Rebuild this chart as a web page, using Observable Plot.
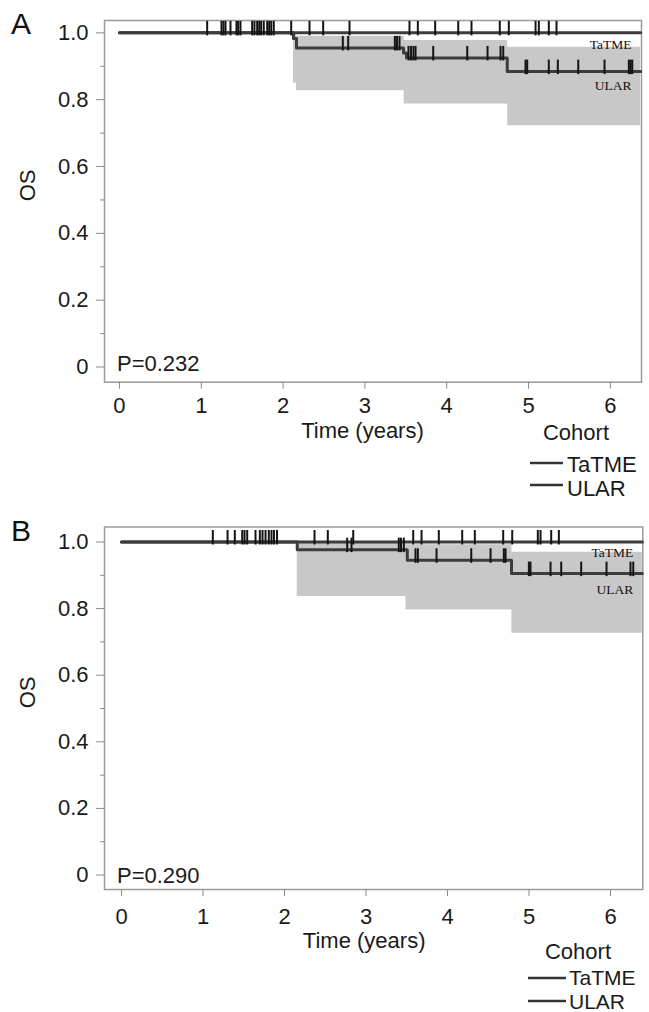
<!DOCTYPE html>
<html><head><meta charset="utf-8">
<script src="https://cdn.jsdelivr.net/npm/d3@7"></script>
<script src="https://cdn.jsdelivr.net/npm/@observablehq/plot@0.6"></script>
<style>
body{margin:0;background:#fff;}
#wrap{position:relative;width:649px;height:1012px;overflow:hidden;font-family:"Liberation Sans",Arial,sans-serif;}
.panel{position:absolute;left:0;}
#overlay{position:absolute;left:0;top:0;pointer-events:none;}
</style></head>
<body>
<div id="wrap">
  <div id="pa" class="panel" style="top:0px"></div>
  <div id="pb" class="panel" style="top:506px"></div>
  <svg id="overlay" width="649" height="1012"></svg>
</div>
<script>
// ---------- data ----------
const panelLabels = ["A", "B"];
const seriesNames = ["TaTME", "ULAR"];
const legendTitle = "Cohort";
const xLabel = "Time (years)";
const yLabel = "OS";
const pValues = ["P=0.232", "P=0.290"];
const xTicks = [0, 1, 2, 3, 4, 5, 6];
const yTicks = [0, 0.2, 0.4, 0.6, 0.8, 1.0];
const yMinorTicks = [0.1, 0.3, 0.5, 0.7, 0.9];

// Panel A
const aEndTime = 6.37;
const aTatmeCensor = [1.072, 1.247, 1.271, 1.296, 1.357, 1.430, 1.451, 1.479, 1.622, 1.650, 1.683, 1.708, 1.732, 1.764,
  1.806, 1.830, 1.855, 1.886, 2.099, 2.323, 2.490, 2.812, 3.545, 3.647, 3.859, 4.141, 4.303, 4.649, 4.759, 5.086,
  5.126, 5.248, 5.342];
const aUlarEventTimes = [2.127, 2.164, 3.472, 3.509, 4.740];
const aUlarEventSurv = [0.983, 0.955, 0.940, 0.925, 0.884];
const aUlarCensor = [2.730, 2.796, 3.366, 3.392, 3.423, 3.533, 3.564, 3.594, 3.619, 3.835, 4.251, 4.499, 4.658, 4.691,
  4.963, 4.984, 5.248, 5.358, 5.608, 5.929, 6.226, 6.247, 6.268];
const aBandStart = [2.127, 2.164, 3.480, 4.745];
const aBandLower = [0.850, 0.827, 0.787, 0.722];
const aBandUpper = [0.995, 0.990, 0.977, 0.957];

// Panel B
const bEndTime = 6.39;
const bTatmeCensor = [1.120, 1.301, 1.390, 1.481, 1.509, 1.542, 1.644, 1.697, 1.730, 1.767, 1.807, 1.840, 1.871, 1.908,
  2.368, 2.531, 2.843, 3.579, 3.681, 3.893, 4.180, 4.335, 4.683, 4.794, 5.108, 5.141, 5.272, 5.366];
const bUlarEventTimes = [2.156, 3.506, 4.785];
const bUlarEventSurv = [0.977, 0.945, 0.905];
const bUlarCensor = [2.769, 2.822, 3.402, 3.429, 3.464, 3.607, 3.636, 3.865, 4.291, 4.528, 4.691, 4.712, 4.998, 5.018,
  5.264, 5.395, 5.640, 5.951, 6.245, 6.279];
const bBandStart = [2.156, 3.490, 4.790];
const bBandLower = [0.836, 0.796, 0.726];
const bBandUpper = [0.999, 0.992, 0.969];

// ---------- helpers ----------
const FONT = '"Liberation Sans", Arial, Helvetica, sans-serif';
const censorSym = {draw(ctx) { ctx.moveTo(0, -12); ctx.lineTo(0, 2.5); }};

function survAt(times, surv, t) {
  let s = 1;
  for (let i = 0; i < times.length; i++) if (times[i] <= t) s = surv[i];
  return s;
}
function stepData(times, surv, end) {
  const d = [{t: 0, s: 1}];
  times.forEach((t, i) => d.push({t, s: surv[i]}));
  d.push({t: end, s: d[d.length - 1].s});
  return d;
}
function bandData(start, lo, hi, end) {
  const d = start.map((t, i) => ({t, lo: lo[i], hi: hi[i]}));
  d.push({t: end, lo: lo[lo.length - 1], hi: hi[hi.length - 1]});
  return d;
}

function panel(c) {
  const tat = stepData([], [], c.end);
  const ul = stepData(c.uT, c.uS, c.end);
  const band = bandData(c.bS, c.bL, c.bU, c.end);
  const cens = c.tC.map(t => ({t, s: 1}))
    .concat(c.uC.map(t => ({t, s: survAt(c.uT, c.uS, t)})));
  const labels = seriesNames.map((n, i) => ({n, x: c.labX, y: c.labY[i]}));
  return Plot.plot({
    width: 649, height: 506,
    marginTop: c.mt, marginBottom: c.mb, marginLeft: 104, marginRight: c.mr,
    style: {fontFamily: FONT, fontSize: "22px", color: "#1a1a1a", background: "transparent"},
    x: {domain: c.xDomain},
    y: {domain: c.yDomain},
    marks: [
      Plot.areaY(band, {x: "t", y1: "lo", y2: "hi", curve: "step-after", fill: "#c8c8c8"}),
      Plot.frame({stroke: "#9a9a9a", strokeWidth: 1.5}),
      Plot.axisY(yTicks, {tickSize: 8, tickPadding: 8, tickFormat: d => d === 0 ? "0" : d.toFixed(1),
        stroke: "#8a8a8a", fill: "#1a1a1a", fontSize: 22, label: null}),
      Plot.axisY(yMinorTicks, {tickSize: 4, tickFormat: () => "", stroke: "#8a8a8a", label: null}),
      Plot.axisX(xTicks, {tickSize: 7, tickPadding: c.xpad, stroke: "#8a8a8a", fill: "#1a1a1a",
        fontSize: 22, label: null}),
      Plot.line(tat, {x: "t", y: "s", curve: "step-after", stroke: "#3c3c3c", strokeWidth: 3}),
      Plot.line(ul, {x: "t", y: "s", curve: "step-after", stroke: "#3c3c3c", strokeWidth: 3}),
      Plot.dot(cens, {x: "t", y: "s", symbol: censorSym, stroke: "#141414", strokeWidth: 2, fill: "none"}),
      Plot.text(labels, {x: "x", y: "y", text: "n", textAnchor: "end", lineAnchor: "middle",
        fontFamily: '"Liberation Serif", "Times New Roman", serif', fontSize: 13.5, fill: "#111"}),
      Plot.text([c.p], {frameAnchor: "bottom-left", dx: 12.5, dy: c.pdy, text: d => d,
        textAnchor: "start", lineAnchor: "middle", fontSize: 22}),
      Plot.text([yLabel], {frameAnchor: "left", dx: -77, rotate: -90, text: d => d,
        lineAnchor: "middle", fontSize: 22}),
      Plot.text([xLabel], {x: c.xlabX, frameAnchor: "bottom", dy: c.xlabDy, text: d => d,
        lineAnchor: "middle", fontSize: 22})
    ]
  });
}

document.getElementById("pa").append(panel({
  end: aEndTime, uT: aUlarEventTimes, uS: aUlarEventSurv, tC: aTatmeCensor, uC: aUlarCensor,
  bS: aBandStart, bL: aBandLower, bU: aBandUpper,
  mt: 20, mb: 124.3, mr: 8, xDomain: [-0.183, 6.381], yDomain: [-0.0455, 1.037],
  xpad: 8.4, labX: 6.26, labY: [0.965, 0.843], p: pValues[0], pdy: -18.5,
  xlabX: 2.97, xlabDy: 48.3
}));
document.getElementById("pb").append(panel({
  end: bEndTime, uT: bUlarEventTimes, uS: bUlarEventSurv, tC: bTatmeCensor, uC: bUlarCensor,
  bS: bBandStart, bL: bBandLower, bU: bBandUpper,
  mt: 20.5, mb: 123, mr: 6.7, xDomain: [-0.209, 6.396], yDomain: [-0.0435, 1.045],
  xpad: 12, labX: 6.28, labY: [0.969, 0.857], p: pValues[1], pdy: -14,
  xlabX: 2.977, xlabDy: 51
}));

// ---------- overlay: panel letters and legends ----------
const ov = d3.select("#overlay").style("font-family", FONT);
const letterPos = [{x: 11, y: 33.5}, {x: 11, y: 541}];
panelLabels.forEach((l, i) => {
  ov.append("text").attr("x", letterPos[i].x).attr("y", letterPos[i].y)
    .attr("font-size", 30).attr("fill", "#111").text(l);
});
const legends = [
  {cx: 576, ty: 439.5, x1: 530, x2: 563, tx: 567, fs: 22, rows: [{ly: 463, by: 472}, {ly: 485, by: 496}]},
  {cx: 578, ty: 959, x1: 528, x2: 566, tx: 569, fs: 21, rows: [{ly: 978, by: 984.5}, {ly: 1001, by: 1008.5}]}
];
legends.forEach(L => {
  ov.append("text").attr("x", L.cx).attr("y", L.ty).attr("text-anchor", "middle")
    .attr("font-size", 22).attr("fill", "#1a1a1a").text(legendTitle);
  seriesNames.forEach((n, i) => {
    const r = L.rows[i];
    ov.append("line").attr("x1", L.x1).attr("x2", L.x2).attr("y1", r.ly).attr("y2", r.ly)
      .attr("stroke", "#333").attr("stroke-width", 2.5);
    ov.append("text").attr("x", L.tx).attr("y", r.by).attr("font-size", L.fs)
      .attr("fill", "#1a1a1a").text(n);
  });
});
</script>
</body></html>
